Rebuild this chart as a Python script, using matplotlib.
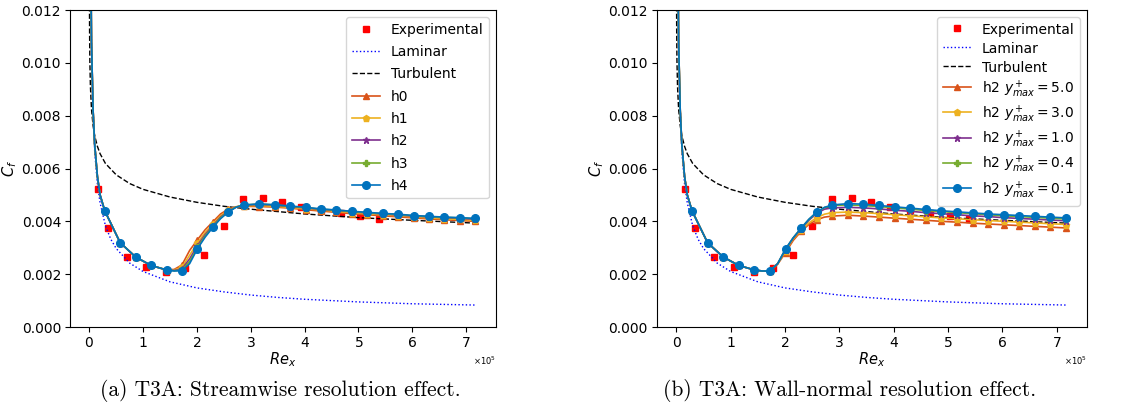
import numpy as np
import matplotlib
matplotlib.use("Agg")
import matplotlib.pyplot as plt

# Re_x values are in units of 1e5
re_exp = [0.154, 0.34, 0.70, 1.06, 1.42, 1.78, 2.14, 2.50, 2.86, 3.23, 3.59, 3.94, 4.31, 4.67, 5.03, 5.39]
cf_exp = [0.00522, 0.00373, 0.00266, 0.00228, 0.00210, 0.00222, 0.00271, 0.00381,
          0.00486, 0.00487, 0.00472, 0.00456, 0.00442, 0.00430, 0.00420, 0.00409]

re_lam = [0.02, 0.03, 0.05, 0.1, 0.15, 0.2, 0.3, 0.4, 0.5, 0.75, 1.0, 1.5, 2.0, 2.5,
          3.0, 3.5, 4.0, 5.0, 6.0, 7.2]
cf_lam = [0.0148, 0.0121, 0.0094, 0.00664, 0.00542, 0.0047, 0.00383, 0.00332, 0.00297,
          0.00242, 0.0021, 0.00171, 0.00148, 0.00133, 0.00121, 0.00112, 0.00105,
          0.00095, 0.00088, 0.00083]

re_turb = [0.002, 0.005, 0.01, 0.02, 0.04, 0.07, 0.1, 0.15, 0.2, 0.3, 0.5, 0.75, 1.0,
           1.5, 2.0, 2.5, 3.0, 4.0, 5.0, 6.0, 7.2]
cf_turb = [0.01266, 0.01111, 0.01006, 0.00912, 0.00826, 0.00762, 0.00724, 0.00684,
           0.00656, 0.00619, 0.00576, 0.00543, 0.00521, 0.00492, 0.00472, 0.00457,
           0.00446, 0.00428, 0.00414, 0.00404, 0.00393]

re_sim = [0.01, 0.02, 0.04, 0.07, 0.1, 0.15, 0.2, 0.287, 0.574, 0.861, 1.148, 1.435,
          1.578, 1.722, 1.865, 2.009, 2.152, 2.296, 2.439, 2.583, 2.726, 2.87, 3.157,
          3.444, 3.731, 4.018, 4.305, 4.592, 4.879, 5.166, 5.453, 5.74, 6.027, 6.314,
          6.601, 6.888, 7.175]
marks = [7, 8, 9, 10, 11, 13, 15, 17, 19, 21] + list(range(22, 37))

lead = [0.024, 0.0160, 0.0108, 0.0082, 0.0069, 0.0057, 0.0050, 0.00440, 0.00319,
        0.00265, 0.00233, 0.00216]

# left panel: streamwise meshes
h0 = lead + [0.00218, 0.00235, 0.00290, 0.00330, 0.00368, 0.00398, 0.00428, 0.00446,
             0.00455, 0.00457, 0.00456, 0.00454, 0.00450, 0.00444, 0.00439, 0.00434,
             0.00429, 0.00425, 0.00421, 0.00417, 0.00413, 0.00409, 0.00406, 0.00403, 0.00400]
h1 = lead + [0.00216, 0.00226, 0.00272, 0.00318, 0.00358, 0.00390, 0.00421, 0.00442,
             0.00455, 0.00459, 0.00460, 0.00457, 0.00453, 0.00448, 0.00443, 0.00438,
             0.00433, 0.00429, 0.00425, 0.00421, 0.00417, 0.00413, 0.00410, 0.00407, 0.00404]
h2 = lead + [0.00214, 0.00220, 0.00258, 0.00308, 0.00350, 0.00384, 0.00416, 0.00439,
             0.00454, 0.00461, 0.00464, 0.00461, 0.00456, 0.00451, 0.00445, 0.00441,
             0.00436, 0.00432, 0.00428, 0.00424, 0.00420, 0.00417, 0.00414, 0.00411, 0.00408]
h3 = lead + [0.00213, 0.00216, 0.00248, 0.00301, 0.00345, 0.00380, 0.00413, 0.00437,
             0.00454, 0.00462, 0.00465, 0.00462, 0.00457, 0.00452, 0.00446, 0.00442,
             0.00437, 0.00433, 0.00429, 0.00426, 0.00421, 0.00418, 0.00415, 0.00413, 0.00410]
h4 = lead + [0.00212, 0.00213, 0.00240, 0.00296, 0.00340, 0.00377, 0.00410, 0.00435,
             0.00453, 0.00462, 0.00466, 0.00463, 0.00458, 0.00453, 0.00447, 0.00443,
             0.00438, 0.00434, 0.00430, 0.00427, 0.00422, 0.00419, 0.00416, 0.00414, 0.00411]

# right panel: wall-normal resolution on h2
y50 = lead + [0.00212, 0.00212, 0.00238, 0.00282, 0.00328, 0.00362, 0.00388, 0.00406,
              0.00416, 0.00420, 0.00423, 0.00420, 0.00416, 0.00412, 0.00408, 0.00404,
              0.00400, 0.00397, 0.00393, 0.00390, 0.00387, 0.00384, 0.00381, 0.00378, 0.00375]
y30 = lead + [0.00212, 0.00212, 0.00239, 0.00288, 0.00334, 0.00366, 0.00394, 0.00414,
              0.00427, 0.00433, 0.00435, 0.00433, 0.00429, 0.00425, 0.00421, 0.00417,
              0.00413, 0.00410, 0.00406, 0.00403, 0.00400, 0.00397, 0.00394, 0.00391, 0.00388]
y10 = lead + [0.00212, 0.00212, 0.00240, 0.00292, 0.00337, 0.00372, 0.00404, 0.00430,
              0.00446, 0.00451, 0.00453, 0.00451, 0.00447, 0.00442, 0.00438, 0.00433,
              0.00429, 0.00425, 0.00421, 0.00418, 0.00414, 0.00411, 0.00408, 0.00405, 0.00402]
y04 = lead + [0.00212, 0.00212, 0.00240, 0.00294, 0.00338, 0.00374, 0.00407, 0.00434,
              0.00452, 0.00460, 0.00462, 0.00460, 0.00456, 0.00451, 0.00446, 0.00441,
              0.00437, 0.00433, 0.00429, 0.00425, 0.00421, 0.00418, 0.00415, 0.00412, 0.00409]
y01 = lead + [0.00212, 0.00212, 0.00240, 0.00296, 0.00338, 0.00374, 0.00408, 0.00435,
              0.00453, 0.00462, 0.00467, 0.00465, 0.00460, 0.00455, 0.00450, 0.00445,
              0.00440, 0.00436, 0.00432, 0.00428, 0.00425, 0.00422, 0.00419, 0.00416, 0.00413]

colors = ['#D95319', '#EDB120', '#7E2F8E', '#77AC30', '#0072BD']
markers = ['^', 'p', '*', 'P', 'o']
msizes = [4.5, 4.5, 5, 4.5, 5.5]

left_series = [h0, h1, h2, h3, h4]
left_labels = ['h0', 'h1', 'h2', 'h3', 'h4']
right_series = [y50, y30, y10, y04, y01]
right_labels = [r'h2 $y^+_{max} = 5.0$', r'h2 $y^+_{max} = 3.0$', r'h2 $y^+_{max} = 1.0$',
                r'h2 $y^+_{max} = 0.4$', r'h2 $y^+_{max} = 0.1$']

scale = 1e5

fig = plt.figure(figsize=(11.3, 4.12), dpi=100)
ax1 = fig.add_axes([0.0620, 0.2063, 0.3770, 0.7694])
ax2 = fig.add_axes([0.5814, 0.2063, 0.3805, 0.7694])


def draw(ax, series, labels, spacing, hheight):
    ax.plot(np.array(re_exp) * scale, cf_exp, 's', color='red', ms=5, label='Experimental')
    ax.plot(np.array(re_lam) * scale, cf_lam, ':', color='blue', lw=1, label='Laminar')
    ax.plot(np.array(re_turb) * scale, cf_turb, '--', color='black', lw=1, label='Turbulent')
    for s, lab, c, m, ms in zip(series, labels, colors, markers, msizes):
        ax.plot(np.array(re_sim) * scale, s, color=c, marker=m, ms=ms, lw=1.2,
                markevery=marks, label=lab)
    ax.set_ylim(0, 0.012)
    ax.set_xlabel('$Re_x$', fontsize=10.5, labelpad=0)
    ax.set_ylabel('$C_f$', fontsize=10.5, labelpad=2)
    ax.ticklabel_format(axis='x', style='sci', scilimits=(0, 0), useMathText=True)
    ax.xaxis.get_offset_text().set_fontsize(6)
    ax.tick_params(labelsize=10, pad=3)
    ax.legend(loc='upper right', fontsize=10, labelspacing=spacing, handlelength=2.0,
              handleheight=hheight)


draw(ax1, left_series, left_labels, 0.6, 0.7)
draw(ax2, right_series, right_labels, 0.28, 1.2)

fig.text(0.248, 0.04, '(a) T3A: Streamwise resolution effect.', ha='center',
         fontsize=15.5, family='cmr10')
fig.text(0.752, 0.04, '(b) T3A: Wall-normal resolution effect.', ha='center',
         fontsize=15.5, family='cmr10')

fig.savefig('out.png', dpi=100)
